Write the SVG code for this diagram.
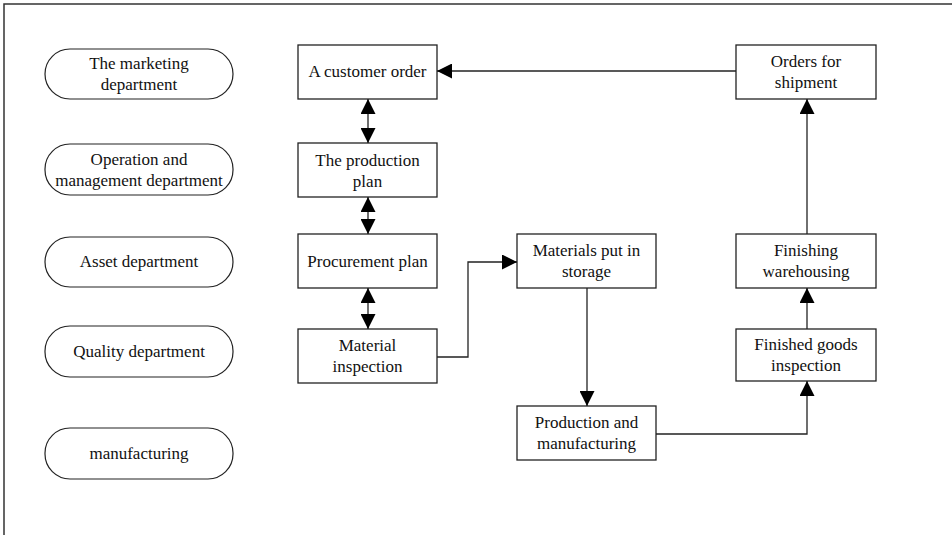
<svg xmlns="http://www.w3.org/2000/svg" width="952" height="535" viewBox="0 0 952 535">
<defs>
<marker id="ah" viewBox="0 0 15 15" refX="15" refY="7.5" markerWidth="15" markerHeight="15" markerUnits="userSpaceOnUse" orient="auto-start-reverse">
<path d="M0,0 L15,7.5 L0,15 Z" fill="#000"/>
</marker>
<style>
.box{fill:#fff;stroke:#222;stroke-width:1.3}
.pill{fill:#fff;stroke:#222;stroke-width:1.2}
text{font-family:"Liberation Serif","Times New Roman",serif;font-size:17px;fill:#111;text-anchor:middle}
.c{fill:none;stroke:#222;stroke-width:1.3}
</style>
</defs>
<rect width="952" height="535" fill="#fff"/>
<path d="M4,535 V4 H952" fill="none" stroke="#333" stroke-width="1.5"/>

<g id="dept-marketing"><rect class="pill" x="45" y="49" width="188" height="50" rx="25" ry="25"/><text x="139" y="69">The marketing</text><text x="139" y="90">department</text></g>
<g id="dept-operation"><rect class="pill" x="45" y="144" width="188" height="51" rx="25" ry="25"/><text x="139" y="165">Operation and</text><text x="139" y="186">management department</text></g>
<g id="dept-asset"><rect class="pill" x="45" y="237" width="188" height="50" rx="25" ry="25"/><text x="139" y="267">Asset department</text></g>
<g id="dept-quality"><rect class="pill" x="45" y="326" width="188" height="51" rx="25" ry="25"/><text x="139" y="357">Quality department</text></g>
<g id="dept-manufacturing"><rect class="pill" x="45" y="428" width="188" height="51" rx="25" ry="25"/><text x="139" y="459">manufacturing</text></g>

<g id="customer-order"><rect class="box" x="298" y="45" width="139" height="54"/><text x="367.5" y="77">A customer order</text></g>
<g id="production-plan"><rect class="box" x="298" y="143" width="139" height="54"/><text x="367.5" y="166">The production</text><text x="367.5" y="187">plan</text></g>
<g id="procurement-plan"><rect class="box" x="298" y="234" width="139" height="54"/><text x="367.5" y="267">Procurement plan</text></g>
<g id="material-inspection"><rect class="box" x="298" y="329" width="139" height="54"/><text x="367.5" y="351">Material</text><text x="367.5" y="372">inspection</text></g>
<g id="materials-storage"><rect class="box" x="517" y="234" width="139" height="54"/><text x="586.5" y="256">Materials put in</text><text x="586.5" y="277">storage</text></g>
<g id="production-manufacturing"><rect class="box" x="517" y="406" width="139" height="54"/><text x="586.5" y="428">Production and</text><text x="586.5" y="449">manufacturing</text></g>
<g id="orders-shipment"><rect class="box" x="736" y="45" width="140" height="54"/><text x="806" y="67">Orders for</text><text x="806" y="88">shipment</text></g>
<g id="finishing-warehousing"><rect class="box" x="736" y="234" width="140" height="54"/><text x="806" y="256">Finishing</text><text x="806" y="277">warehousing</text></g>
<g id="finished-inspection"><rect class="box" x="736" y="329" width="140" height="52"/><text x="806" y="350">Finished goods</text><text x="806" y="371">inspection</text></g>

<g id="connectors">
<path class="c" d="M736,71 H437" marker-end="url(#ah)"/>
<path class="c" d="M368,99 V143" marker-start="url(#ah)" marker-end="url(#ah)"/>
<path class="c" d="M368,197 V234" marker-start="url(#ah)" marker-end="url(#ah)"/>
<path class="c" d="M368,288 V329" marker-start="url(#ah)" marker-end="url(#ah)"/>
<path class="c" d="M437,357 H468 V262 H517" marker-end="url(#ah)"/>
<path class="c" d="M587,288 V406" marker-end="url(#ah)"/>
<path class="c" d="M656,434 H807 V381" marker-end="url(#ah)"/>
<path class="c" d="M807,329 V288" marker-end="url(#ah)"/>
<path class="c" d="M807,234 V99" marker-end="url(#ah)"/>
</g>
</svg>
